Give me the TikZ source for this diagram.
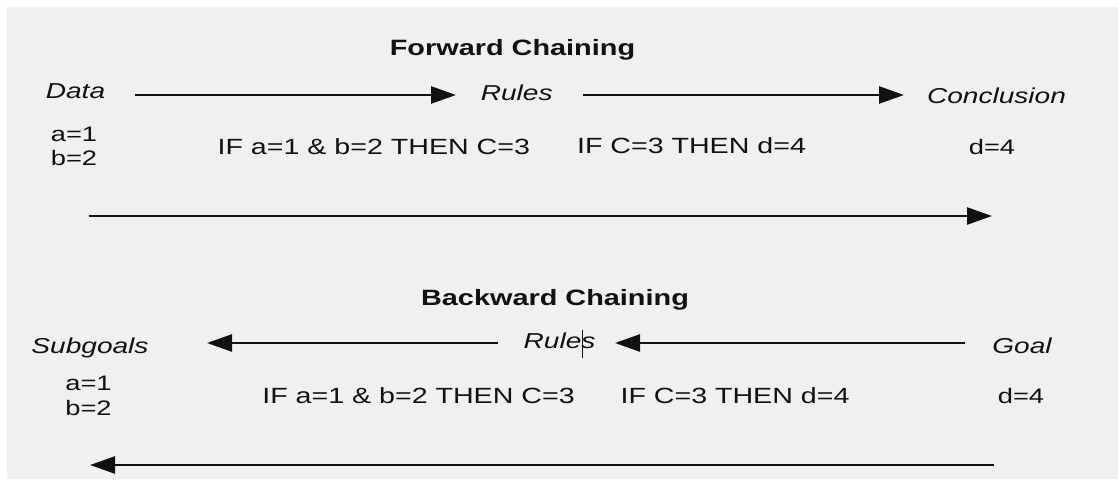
\documentclass[tikz,border=0pt]{standalone}
\usepackage{fontspec}
\setmainfont{Liberation Sans}[FakeStretch=1.3]
\usetikzlibrary{arrows.meta}
\definecolor{bgc}{HTML}{F0F0F0}
\definecolor{inkc}{HTML}{111111}
\begin{document}
\begin{tikzpicture}[x=1pt,y=-1pt,
  lbl/.style={font=\fontsize{21.6}{25}\selectfont\itshape, anchor=base, inner sep=0pt, text=inkc},
  val/.style={font=\fontsize{21}{25}\selectfont, anchor=base, inner sep=0pt, text=inkc},
  ruletxt/.style={font=\fontsize{22}{25}\selectfont, anchor=base, inner sep=0pt, text=inkc},
  ttl/.style={font=\fontsize{22.2}{25}\selectfont\bfseries, anchor=base, inner sep=0pt, text=inkc},
  arr/.style={-{Triangle[length=25pt,width=17pt]}, line width=2.5pt, draw=inkc}]
\useasboundingbox (0,0) rectangle (1118,479);
\fill[white] (0,0) rectangle (1118,479);
\fill[bgc] (7,7) rectangle (1118,479);

% ---------- Forward chaining ----------
\node[ttl] (ftitle) at (512.5,55) {Forward Chaining};
\node[lbl] (data) at (75.5,98) {Data};
\node[lbl] (rules1) at (516.7,100.5) {Rules};
\node[lbl] (concl) at (996.5,103) {Conclusion};
\node[val] (fa) at (74,141.5) {a=1};
\node[val] (fb) at (74,165.5) {b=2};
\node[ruletxt] (if1) at (373.8,154.3) {IF a=1 \& b=2 THEN C=3};
\node[ruletxt] (if2) at (691.5,153.5) {IF C=3 THEN d=4};
\node[val] (fd) at (992,154) {d=4};

\coordinate (f1s) at (135,95);
\coordinate (f1e) at (456,95);
\coordinate (f2s) at (583,95);
\coordinate (f2e) at (904,95);
\coordinate (f3s) at (88.6,216);
\coordinate (f3e) at (992,216);
\draw[arr] (f1s) -- (f1e);
\draw[arr] (f2s) -- (f2e);
\draw[arr] (f3s) -- (f3e);

% ---------- Backward chaining ----------
\node[ttl] (btitle) at (555,305) {Backward Chaining};
\node[lbl] (subg) at (90,353) {Subgoals};
\node[lbl] (rules2) at (559.6,348.5) {Rules};
\node[lbl] (goal) at (1022,353) {Goal};
\node[val] (ba) at (88.5,390) {a=1};
\node[val] (bb) at (88.5,415.5) {b=2};
\node[ruletxt] (if3) at (418.5,403) {IF a=1 \& b=2 THEN C=3};
\node[ruletxt] (if4) at (735,403) {IF C=3 THEN d=4};
\node[val] (bd) at (1021,403) {d=4};

\coordinate (b1s) at (498,343);
\coordinate (b1e) at (207,343);
\coordinate (b2s) at (965,343);
\coordinate (b2e) at (615,343);
\coordinate (b3s) at (993.7,465);
\coordinate (b3e) at (90,465);
\draw[arr] (b1s) -- (b1e);
\draw[arr] (b2s) -- (b2e);
\draw[arr] (b3s) -- (b3e);

% text cursor mark inside "Rules"
\coordinate (cur1) at (582.3,330);
\coordinate (cur2) at (582.3,358);
\draw[line width=0.9pt, inkc] (cur1) -- (cur2);
\end{tikzpicture}
\end{document}
